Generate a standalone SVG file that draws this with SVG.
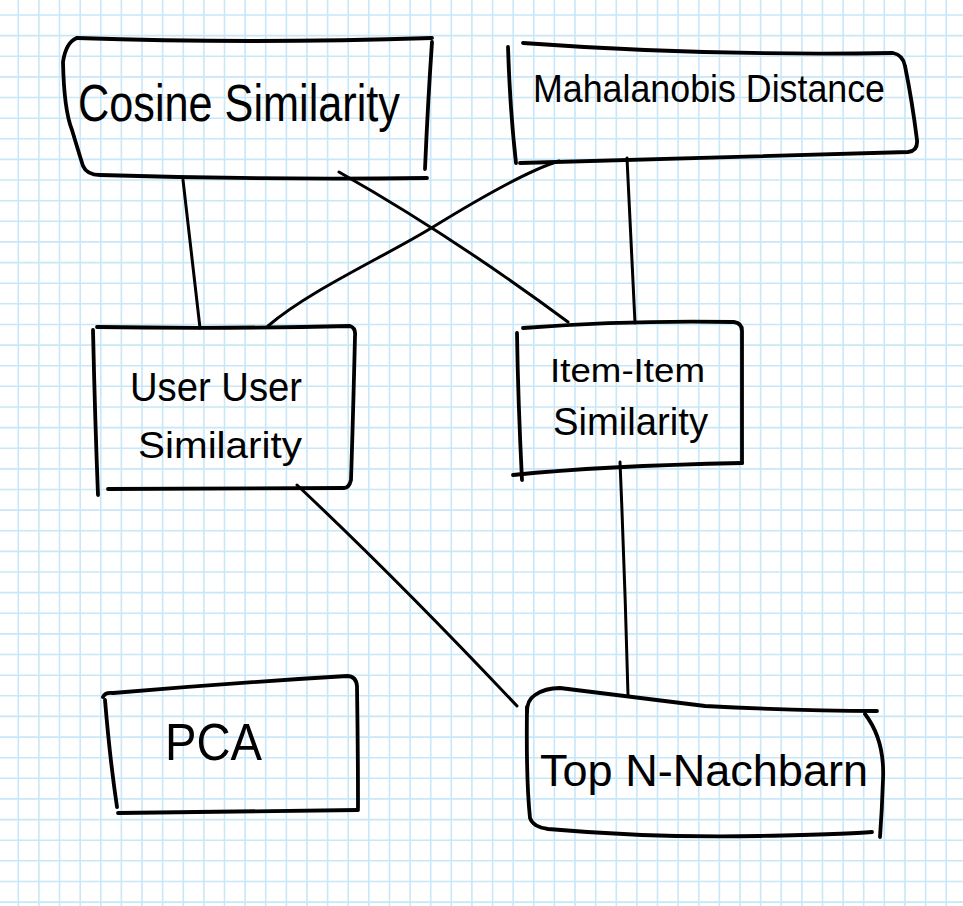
<svg xmlns="http://www.w3.org/2000/svg" width="963" height="906" viewBox="0 0 963 906">
  <style>
    .grid { fill: none; stroke: #c8e7f8; stroke-width: 1.6; }
    .box { fill: none; stroke: #000; stroke-width: 3.8; stroke-linecap: round; stroke-linejoin: round; }
    .edge { fill: none; stroke: #000; stroke-width: 3; stroke-linecap: round; stroke-linejoin: round; }
    .label { font-family: "Liberation Sans", "DejaVu Sans", sans-serif; fill: #000; }
  </style>

  <!-- graph-paper background -->
  <rect width="963" height="906" fill="#fff"/>
  <path class="grid" d="M18.3 0V906M38.9 0V906M59.5 0V906M80.2 0V906M100.8 0V906M121.4 0V906M142 0V906M162.6 0V906M183.3 0V906M203.9 0V906M224.5 0V906M245.1 0V906M265.7 0V906M286.4 0V906M307 0V906M327.6 0V906M348.2 0V906M368.8 0V906M389.5 0V906M410.1 0V906M430.7 0V906M451.3 0V906M471.9 0V906M492.6 0V906M513.2 0V906M533.8 0V906M554.4 0V906M575 0V906M595.7 0V906M616.3 0V906M636.9 0V906M657.5 0V906M678.1 0V906M698.8 0V906M719.4 0V906M740 0V906M760.6 0V906M781.2 0V906M801.9 0V906M822.5 0V906M843.1 0V906M863.7 0V906M884.3 0V906M905 0V906M925.6 0V906M946.2 0V906"/>
  <path class="grid" d="M0 15H963M0 35.6H963M0 56.3H963M0 76.9H963M0 97.5H963M0 118.2H963M0 138.8H963M0 159.4H963M0 180H963M0 200.7H963M0 221.3H963M0 241.9H963M0 262.6H963M0 283.2H963M0 303.8H963M0 324.5H963M0 345.1H963M0 365.7H963M0 386.3H963M0 407H963M0 427.6H963M0 448.2H963M0 468.9H963M0 489.5H963M0 510.1H963M0 530.8H963M0 551.4H963M0 572H963M0 592.6H963M0 613.3H963M0 633.9H963M0 654.5H963M0 675.2H963M0 695.8H963M0 716.4H963M0 737.1H963M0 757.7H963M0 778.3H963M0 798.9H963M0 819.6H963M0 840.2H963M0 860.8H963M0 881.5H963M0 902.1H963"/>

  <!-- connectors -->
  <g id="connectors">
    <path class="edge" d="M183 180 L200 328"/>
    <path class="edge" d="M339 172 Q 452 236 568 322"/>
    <path class="edge" d="M559 161 C 530 170 480 198 433 227 S 310 290 268 326"/>
    <path class="edge" d="M627 158 Q 631 240 635 323"/>
    <path class="edge" d="M620 462 Q 625 580 628 695"/>
    <path class="edge" d="M297 485 Q 398 580 517 706"/>
  </g>

  <!-- nodes -->
  <g id="cosine-similarity">
    <path class="box" d="M77 38 Q 250 44 432 38"/>
    <path class="box" d="M432 42 Q 428 100 425 169"/>
    <path class="box" d="M77 38 Q 66 42 63 62 Q 64 110 72 130 Q 78 150 83 166 Q 87 175 100 175 Q 260 180 427 178"/>
    <text class="label" x="78" y="121" font-size="52" textLength="322" lengthAdjust="spacingAndGlyphs">Cosine Similarity</text>
  </g>

  <g id="mahalanobis-distance">
    <path class="box" d="M508 47 Q 510 110 516 163"/>
    <path class="box" d="M523 43 Q 700 56 893 53 Q 903 55 905 66 Q 912 100 917 140 Q 918 151 908 152 Q 700 158 520 163"/>
    <text class="label" x="533" y="102" font-size="38" textLength="352" lengthAdjust="spacingAndGlyphs">Mahalanobis Distance</text>
  </g>

  <g id="user-user-similarity">
    <path class="box" d="M97 327 Q 220 329 350 326 Q 356 328 355 336 Q 353 420 351 480 Q 349 488 344 488 L 108 489"/>
    <path class="box" d="M93 330 Q 95 420 98 495"/>
    <text class="label" x="130" y="401" font-size="40" textLength="172" lengthAdjust="spacingAndGlyphs">User User</text>
    <text class="label" x="138" y="458" font-size="36" textLength="164" lengthAdjust="spacingAndGlyphs">Similarity</text>
  </g>

  <g id="item-item-similarity">
    <path class="box" d="M523 328 Q 630 320 734 322 Q 742 323 742 331 L 742 463"/>
    <path class="box" d="M513 475 Q 600 466 742 463"/>
    <path class="box" d="M517 333 Q 518 400 522 480"/>
    <text class="label" x="550" y="382" font-size="34" textLength="155" lengthAdjust="spacingAndGlyphs">Item-Item</text>
    <text class="label" x="553" y="435" font-size="38" textLength="155" lengthAdjust="spacingAndGlyphs">Similarity</text>
  </g>

  <g id="pca">
    <path class="box" d="M103 697 Q 105 692 113 693 Q 230 683 347 676 Q 356 676 357 686 Q 358 750 358 808"/>
    <path class="box" d="M105 700 Q 110 760 117 807"/>
    <path class="box" d="M118 813 L 358 810"/>
    <text class="label" x="165" y="760" font-size="52" textLength="97" lengthAdjust="spacingAndGlyphs">PCA</text>
  </g>

  <g id="top-n-nachbarn">
    <path class="box" d="M527 712 Q 527 700 535 695 Q 545 688 560 688 Q 640 698 705 706 Q 800 711 877 711"/>
    <path class="box" d="M865 714 Q 885 740 883 780 Q 882 810 880 837"/>
    <path class="box" d="M527 707 Q 526 780 530 818 Q 533 827 548 829 Q 650 838 760 836 Q 850 834 872 832"/>
    <text class="label" x="540" y="786" font-size="44" textLength="328" lengthAdjust="spacingAndGlyphs">Top N-Nachbarn</text>
  </g>
</svg>
